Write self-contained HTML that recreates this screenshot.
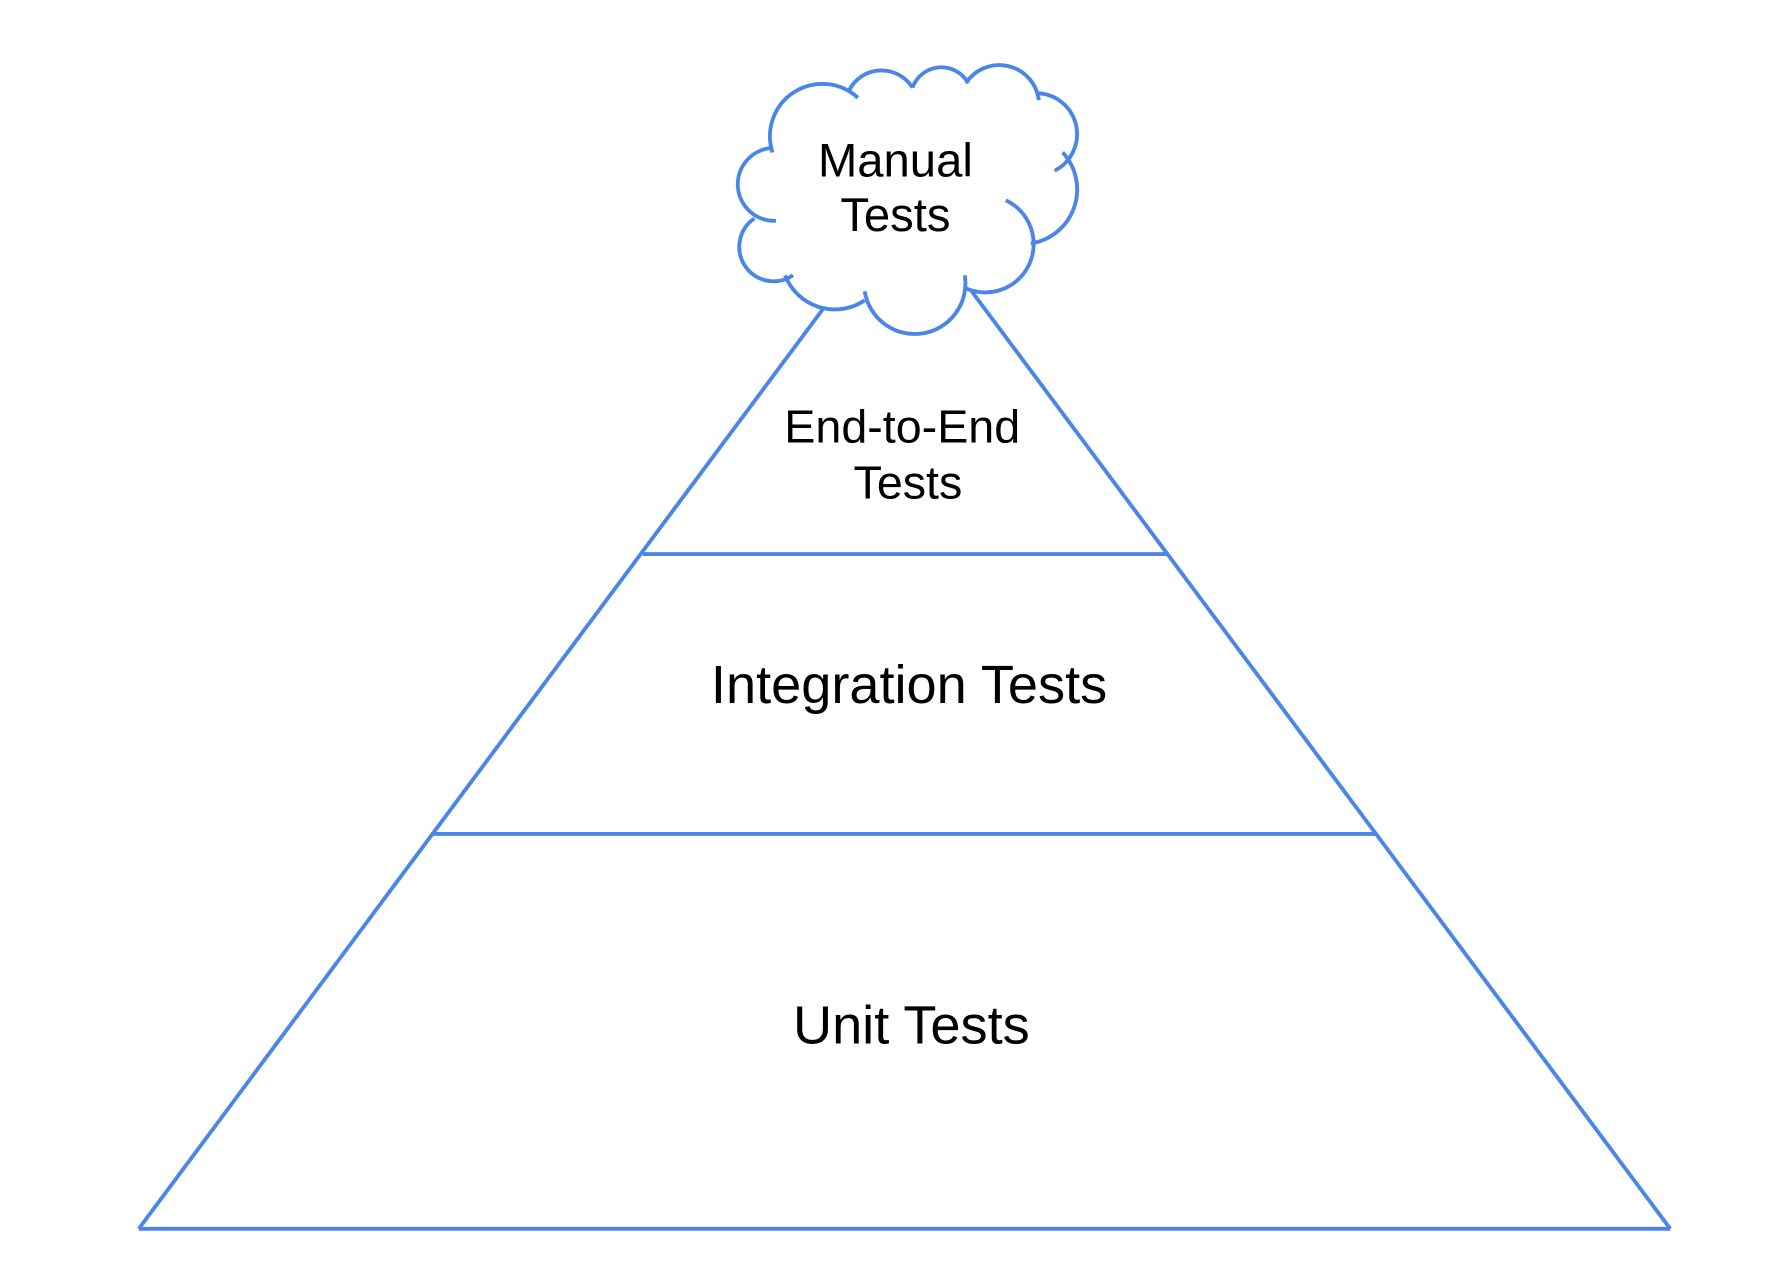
<!DOCTYPE html>
<html><head><style>
html,body{margin:0;padding:0;background:#fff;}
svg{display:block}
text{font-family:"Liberation Sans",Arial,sans-serif;fill:#000;text-anchor:middle}
</style></head><body>
<svg width="1784" height="1286" viewBox="0 0 1568 1130.3" xmlns="http://www.w3.org/2000/svg">
<g fill="none" stroke="#4a86e8" stroke-width="3.4" stroke-linecap="butt">
<line x1="122" y1="1080" x2="1468" y2="1080"/>
<line x1="122" y1="1080" x2="723" y2="272"/>
<line x1="1468" y1="1080" x2="854" y2="256"/>
<line x1="565" y1="487" x2="1026" y2="487"/>
<line x1="381" y1="733" x2="1209" y2="733"/>
<path d="M682 194 A31 31 0 0 1 679 130"/>
<path d="M679 134 A46 46 0 0 1 754 86"/>
<path d="M746 80 A32 32 0 0 1 802 77"/>
<path d="M802 77 A27 27 0 0 1 851 73"/>
<path d="M849 73 A35 35 0 0 1 913 88"/>
<path d="M913 82 A36 36 0 0 1 927 150"/>
<path d="M934 134 A48 48 0 0 1 906 214"/>
<path d="M884 176 A41 41 0 1 1 848 253"/>
<path d="M848 242 A44 44 0 0 1 760 256"/>
<path d="M760 264 A47 47 0 0 1 690 242"/>
<path d="M697 242 A29 29 0 0 1 663 192"/>
</g>
<text x="787" y="155" font-size="41.5">Manual</text>
<text x="787" y="203" font-size="41.5">Tests</text>
<text x="793" y="389" font-size="41">End-to-End</text>
<text x="798" y="438" font-size="41">Tests</text>
<text x="799" y="618" font-size="47.6">Integration Tests</text>
<text x="801" y="917" font-size="47.6">Unit Tests</text>
</svg>
</body></html>
